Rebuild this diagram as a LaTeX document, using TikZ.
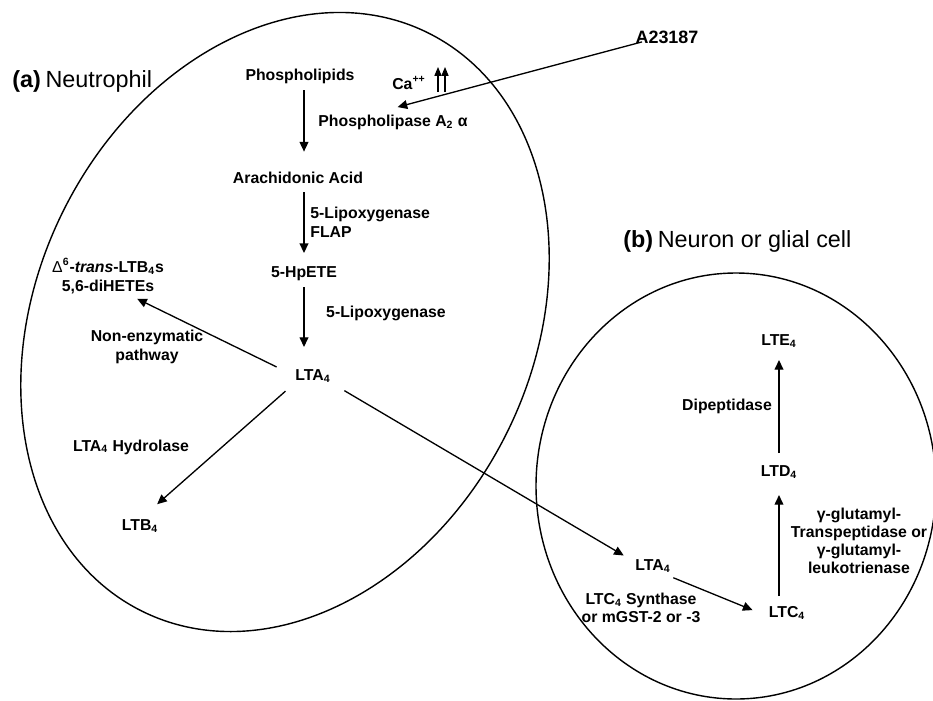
\documentclass[tikz,border=0pt]{standalone}
\usepackage{fontspec}
\setmainfont{Liberation Sans}
\usetikzlibrary{arrows.meta}
\begin{document}
\begin{tikzpicture}[x=0.02cm, y=0.02cm,
  arr/.style={-{Triangle[length=5.5pt,width=5pt]}, line width=0.75pt},
  uparr/.style={-{Triangle[length=5pt,width=4pt]}, line width=0.6pt},
  cell/.style={line width=0.8pt},
  celltitle/.style={anchor=west, font=\fontsize{13.3}{15}\selectfont\mdseries}]
\tikzstyle{every node}+=[inner sep=0pt, align=center, font=\fontsize{9}{10.6}\selectfont\bfseries]
\useasboundingbox (0,0) rectangle (933,-700);
\clip (0,0) rectangle (933,-700);
% the two cells
\begin{scope}[shift={(285,-322)}, rotate=63.8]
\draw [black, cell] (0,0) ellipse [x radius=322.6, y radius=248];
\end{scope}
\draw [black, cell] (736,-486) ellipse [x radius=200, y radius=213];
% (a) neutrophil
\draw (12,-81) node [celltitle] (titlea) {\textbf{(a)}\hspace{0.2em}Neutrophil};
\draw (300,-76) node (phos) {Phospholipids};
\draw (409,-83) node (ca) {Ca\textsuperscript{++}};
\draw (393,-122) node (pla) {Phospholipase A\textsubscript{2} α};
\draw (667,-37) node [font=\fontsize{10.2}{12}\selectfont\bfseries] (ion) {A23187};
\draw (298,-178) node (aa) {Arachidonic Acid};
\draw (310,-222) node [anchor=west, align=left] (lox) {5-Lipoxygenase\\FLAP};
\draw (304,-274) node (hpete) {5-HpETE};
\draw (386,-313) node (loxb) {5-Lipoxygenase};
\draw (313,-376) node (lta) {LTA\textsubscript{4}};
\draw (108,-276) node (trans) {{\mdseries Δ}\textsuperscript{6}-\textit{trans}-LTB\textsubscript{4}s\\5,6-diHETEs};
\draw (147,-347) node (nonenz) {Non-enzymatic\\pathway};
\draw (131,-447) node (hyd) {LTA\textsubscript{4} Hydrolase};
\draw (140,-526) node (ltb) {LTB\textsubscript{4}};
% (b) neuron or glial cell
\draw (623,-241) node [celltitle] (titleb) {\textbf{(b)}\hspace{0.2em}Neuron or glial cell};
\draw (779,-341) node (lte) {LTE\textsubscript{4}};
\draw (727,-406) node (dip) {Dipeptidase};
\draw (779,-472) node (ltd) {LTD\textsubscript{4}};
\draw (859,-541) node [font=\fontsize{9}{10.2}\selectfont\bfseries] (ggt) {γ-glutamyl-\\Transpeptidase or\\γ-glutamyl-\\leukotrienase};
\draw (653,-566) node (ltar) {LTA\textsubscript{4}};
\draw (641,-608) node (ltcs) {LTC\textsubscript{4} Synthase\\or mGST-2 or -3};
\draw (787,-613) node (ltc) {LTC\textsubscript{4}};
% Ca++ rise
\coordinate (upa0) at (438,-92);
\coordinate (upa1) at (438,-67);
\coordinate (upb0) at (445,-92);
\coordinate (upb1) at (445,-67);
\draw [black, uparr] (upa0) -- (upa1);
\draw [black, uparr] (upb0) -- (upb1);
% pathway
\draw [black, arr, shorten <=-4pt, shorten >=15.9pt] (ion.south west) -- (pla.161);
\draw [black, arr, shorten <=3.7pt, shorten >=11.5pt] (phos.south -| hpete) -- (aa.north -| hpete);
\draw [black, arr, shorten <=4.5pt, shorten >=7.7pt] (aa.south -| hpete) -- (hpete.north);
\draw [black, arr, shorten <=3.2pt, shorten >=12.7pt] (hpete.south) -- (hpete.south |- lta.north);
\draw [black, arr, shorten <=11.7pt, shorten >=6.3pt] (lta.west) -- (trans.-43);
\draw [black, arr, shorten <=7.3pt, shorten >=13pt] (lta.south west) -- (ltb.north);
\draw [black, arr, shorten <=8.9pt, shorten >=7.5pt] (lta.south east) -- (ltar.168);
\draw [black, arr, shorten <=7.6pt, shorten >=9.8pt] (ltar.-40) -- (ltc.191);
\draw [black, arr, shorten <=5.7pt, shorten >=9.3pt] (ltc.north -| ltd) -- (ltd.south);
\draw [black, arr, shorten <=7pt, shorten >=7pt] (ltd.north) -- (lte.south);
\end{tikzpicture}
\end{document}
